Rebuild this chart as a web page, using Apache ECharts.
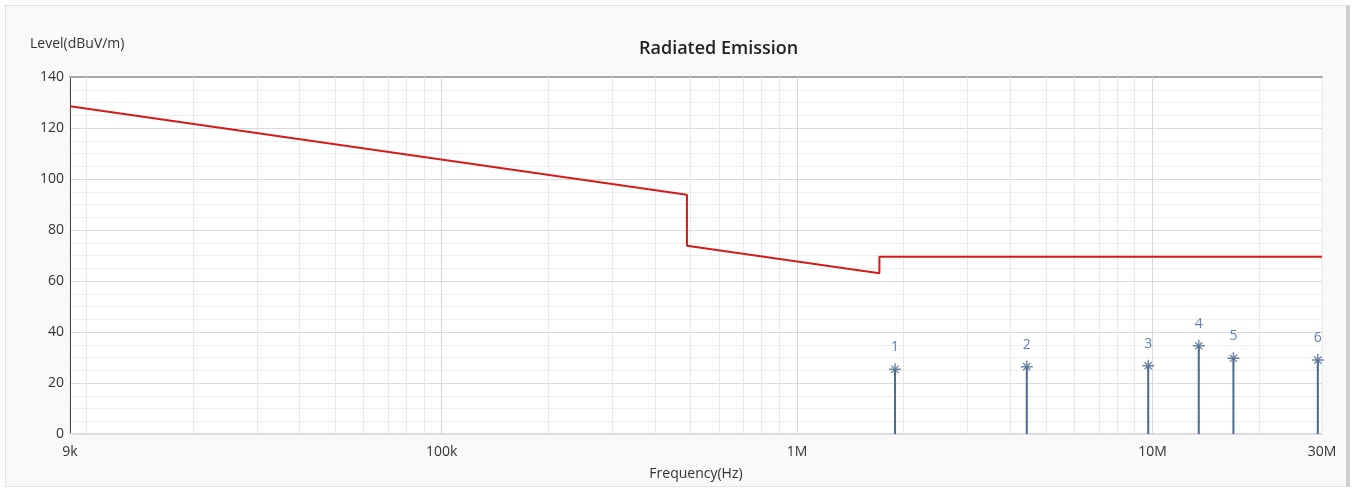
<!DOCTYPE html>
<html>
<head>
<meta charset="utf-8">
<script src="https://cdn.jsdelivr.net/npm/echarts@6/dist/echarts.min.js"></script>
<style>
html,body{margin:0;padding:0;background:#ffffff;}
#panel{position:absolute;left:5px;top:5px;width:1340px;height:480px;background:#f9f9f9;border:1px solid #e2e2e2;border-right:4px solid #d0d0d0;}
#chart{position:absolute;left:0;top:0;width:1357px;height:490px;}
</style>
</head>
<body>
<div id="panel"></div>
<div id="chart"></div>
<script>
// ---- data ----
const limitFreq = [9e3, 490e3, 490e3, 1.705e6, 1.705e6, 30e6];
const limitLevel = [128.5, 93.8, 73.8, 63.0, 69.5, 69.5];
const peakFreq = [1.886e6, 4.43e6, 9.73e6, 13.5e6, 16.9e6, 29.2e6];
const peakLevel = [25.4, 26.4, 26.8, 34.6, 29.7, 29.0];
const peakLabels = ['1', '2', '3', '4', '5', '6'];
const xLabelValues = [9e3, 1e5, 1e6, 1e7, 3e7];
const xLabelTexts = ['9k', '100k', '1M', '10M', '30M'];
const xMajorGrid = [1e5, 1e6, 1e7];
const xMinorGrid = [1e4, 2e4, 3e4, 4e4, 5e4, 6e4, 7e4, 8e4, 9e4,
  2e5, 3e5, 4e5, 5e5, 6e5, 7e5, 8e5, 9e5,
  2e6, 3e6, 4e6, 5e6, 6e6, 7e6, 8e6, 9e6, 2e7];
const yMin = 0, yMax = 140, yInterval = 20;

const lg = v => Math.log10(v);
const FONT = '"Open Sans", "Noto Sans", sans-serif';

const chart = echarts.init(document.getElementById('chart'), null, {renderer: 'canvas'});

const gridLines = [];
xMinorGrid.forEach(v => gridLines.push({xAxis: lg(v), lineStyle: {color: '#e8e8e8', width: 1, type: 'solid'}}));
xMajorGrid.forEach(v => gridLines.push({xAxis: lg(v), lineStyle: {color: '#d6d6d6', width: 1, type: 'solid'}}));

const asterisk = 'path://M0,4.4 H10 V5.6 H0 Z M4.4,0 H5.6 V10 H4.4 Z M1.6,2.4 L2.4,1.6 L8.4,7.6 L7.6,8.4 Z M7.6,1.6 L8.4,2.4 L2.4,8.4 L1.6,7.6 Z';

chart.setOption({
  backgroundColor: 'transparent',
  animation: false,
  textStyle: {fontFamily: FONT},
  title: {
    text: 'Radiated Emission',
    left: 634, top: 35,
    textStyle: {fontFamily: FONT, fontSize: 18, fontWeight: 600, color: '#222'}
  },
  graphic: [{
    type: 'text', left: 30, top: 37,
    style: {text: 'Level(dBuV/m)', font: '14px ' + FONT, fill: '#333'}
  }],
  grid: {
    left: 70, right: 35, top: 77, bottom: 56,
    show: true, backgroundColor: '#ffffff', borderColor: '#e6e6e6', borderWidth: 1
  },
  xAxis: [{
    type: 'value',
    min: lg(9e3), max: lg(30e6),
    name: 'Frequency(Hz)', nameLocation: 'middle', nameGap: 33,
    nameTextStyle: {fontFamily: FONT, fontSize: 14, color: '#333'},
    axisLine: {show: true, onZero: false, lineStyle: {color: '#dcdcdc', width: 2}},
    axisTick: {show: false},
    splitLine: {show: false},
    axisLabel: {
      customValues: xLabelValues.map(lg),
      fontFamily: FONT, fontSize: 14, color: '#333', margin: 11,
      formatter: function (v) {
        for (let i = 0; i < xLabelValues.length; i++) {
          if (Math.abs(lg(xLabelValues[i]) - v) < 1e-6) return xLabelTexts[i];
        }
        return '';
      }
    }
  }, {
    type: 'value', position: 'top',
    min: lg(9e3), max: lg(30e6),
    axisLine: {show: true, onZero: false, lineStyle: {color: '#a8a8a8', width: 2}},
    axisTick: {show: false}, axisLabel: {show: false}, splitLine: {show: false}
  }],
  yAxis: {
    type: 'value', min: yMin, max: yMax, interval: yInterval,
    axisLine: {show: true, lineStyle: {color: '#444', width: 1}},
    axisTick: {show: false},
    axisLabel: {fontFamily: FONT, fontSize: 14, color: '#333', margin: 6},
    splitLine: {show: true, lineStyle: {color: '#dadada', width: 1}},
    minorTick: {show: false, splitNumber: 4},
    minorSplitLine: {show: true, lineStyle: {color: '#eeeeee', width: 1}}
  },
  series: [
    {
      type: 'line', name: 'grid', data: [], silent: true,
      markLine: {silent: true, symbol: 'none', label: {show: false}, animation: false, data: gridLines}
    },
    {
      type: 'line', name: 'Limit',
      data: limitFreq.map((f, i) => [lg(f), limitLevel[i]]),
      showSymbol: false, symbol: 'none',
      lineStyle: {color: '#d41c1c', width: 2},
      z: 5
    },
    {
      type: 'bar', name: 'stems',
      data: peakFreq.map((f, i) => [lg(f), peakLevel[i]]),
      barWidth: 2,
      itemStyle: {color: '#4a6a8e'},
      z: 4
    },
    {
      type: 'scatter', name: 'Peaks',
      data: peakFreq.map((f, i) => [lg(f), peakLevel[i]]),
      symbol: asterisk, symbolSize: 12,
      itemStyle: {color: '#4a6a8e'},
      label: {
        show: true, position: 'top', distance: 9,
        formatter: p => peakLabels[p.dataIndex],
        fontFamily: FONT, fontSize: 14, color: '#3a62a8'
      },
      z: 6
    }
  ]
});
</script>
</body>
</html>
